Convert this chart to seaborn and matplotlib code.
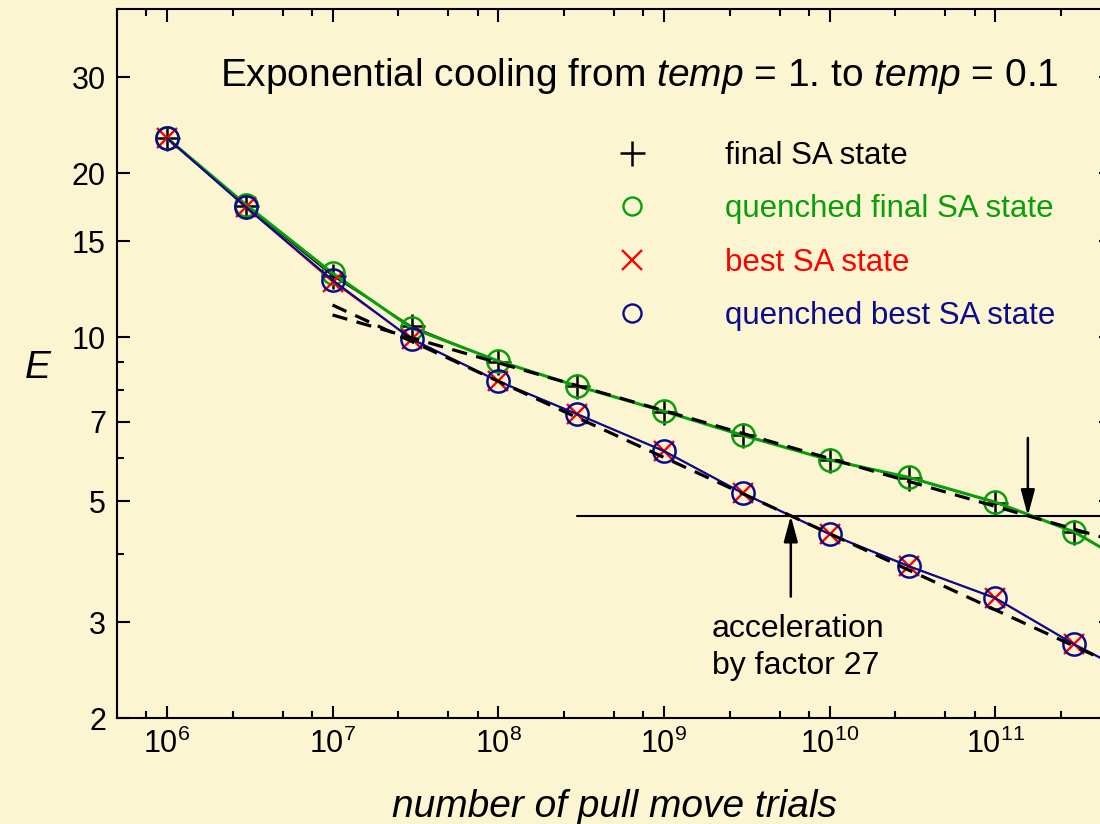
import numpy as np
import pandas as pd
import matplotlib
matplotlib.use("Agg")
import matplotlib.pyplot as plt
import seaborn as sns
from matplotlib.ticker import LogLocator, FixedLocator, FixedFormatter, NullFormatter
from matplotlib.lines import Line2D

# ---- data -------------------------------------------------------------
trials = [1e6, 3e6, 1e7, 3e7, 1e8, 3e8, 1e9, 3e9, 1e10, 3e10, 1e11, 3e11, 1e12]
final_sa = [23.2, 17.4, 12.95, 10.47, 9.02, 8.13, 7.30, 6.62, 5.95, 5.52, 4.97, 4.39, 3.55]
quenched_final = [23.2, 17.5, 13.1, 10.39, 9.04, 8.13, 7.31, 6.60, 5.95, 5.53, 4.98, 4.39, 3.55]
best_sa = [23.2, 17.3, 12.63, 9.92, 8.30, 7.22, 6.18, 5.17, 4.35, 3.80, 3.32, 2.73, 2.26]
quenched_best = [23.2, 17.32, 12.72, 9.92, 8.30, 7.22, 6.18, 5.17, 4.35, 3.80, 3.32, 2.73, 2.26]

# power-law fits E = E0 * (n / 1e7) ** (-exponent)
fit_range = [1e7, 1e12]
fit_final_E0, fit_final_exp = 10.98, 0.0878
fit_best_E0, fit_best_exp = 11.45, 0.1398

# reference energy level and arrow tails
level_E = 4.70
level_start = 3e8
arrow_down_from = 6.53
arrow_up_from = 3.34

x_major = [1e6, 1e7, 1e8, 1e9, 1e10, 1e11]
y_major = [2, 3, 5, 7, 10, 15, 20, 30]
y_minor = [4, 6, 8, 9]

# ---- style ------------------------------------------------------------
bg = "#fbf5d2"
green = "#0a9e0a"
navy = "#0c0c8a"
red = "#ff0000"

sns.set_theme(style="ticks")
plt.rcParams.update({
    "font.family": ["Liberation Sans", "DejaVu Sans"],
    "mathtext.fontset": "custom",
    "mathtext.rm": "Liberation Sans",
    "mathtext.it": "Liberation Sans:italic",
    "mathtext.bf": "Liberation Sans:bold",
    "axes.edgecolor": "black",
    "axes.labelcolor": "black",
    "axes.linewidth": 1.5,
    "text.color": "black",
    "xtick.color": "black",
    "ytick.color": "black",
    "xtick.labelcolor": "black",
    "ytick.labelcolor": "black",
})

fig = plt.figure(figsize=(11, 8.24), dpi=100, facecolor=bg)
ax = fig.add_axes([117 / 1100, 106 / 824, 994 / 1100, 709 / 824])
ax.set_facecolor(bg)
ax.set_xscale("log")
ax.set_yscale("log")

df = pd.DataFrame({
    "trials": trials,
    "final": final_sa,
    "qfinal": quenched_final,
    "best": best_sa,
    "qbest": quenched_best,
})

# solid curves with markers
sns.lineplot(data=df, x="trials", y="final", ax=ax, color="black", lw=1.0,
             marker="+", markersize=18, markeredgewidth=1.8,
             markeredgecolor="black", sort=False, estimator=None, zorder=2)
sns.lineplot(data=df, x="trials", y="qfinal", ax=ax, color=green, lw=2.2,
             marker="o", markersize=16, markerfacecolor="none",
             markeredgecolor=green, markeredgewidth=1.8, sort=False,
             estimator=None, zorder=3)
sns.lineplot(data=df, x="trials", y="best", ax=ax, color=red, lw=1.0,
             marker="x", markersize=15, markeredgewidth=1.7, markeredgecolor=red,
             sort=False, estimator=None, zorder=4)
sns.lineplot(data=df, x="trials", y="qbest", ax=ax, color=navy, lw=1.6,
             marker="o", markersize=16, markerfacecolor="none",
             markeredgecolor=navy, markeredgewidth=1.8, sort=False,
             estimator=None, zorder=5)

# dashed power-law fits
fx = np.array(fit_range)
fit_final = fit_final_E0 * (fx / 1e7) ** (-fit_final_exp)
fit_best = fit_best_E0 * (fx / 1e7) ** (-fit_best_exp)
ax.plot(fx, fit_final, color="black", lw=2.3, ls=(0, (4.8, 3.0)), zorder=6)
ax.plot(fx, fit_best, color="black", lw=2.3, ls=(0, (4.8, 3.0)), zorder=6)

# reference level and where each fit reaches it
ax.plot([level_start, 1e13], [level_E, level_E], color="black", lw=1.5, zorder=1)
x_cross_final = 1e7 * (level_E / fit_final_E0) ** (-1 / fit_final_exp)
x_cross_best = 1e7 * (level_E / fit_best_E0) ** (-1 / fit_best_exp)
factor = x_cross_final / x_cross_best

arrow_kw = dict(arrowstyle="-|>,head_length=1.3,head_width=0.35", color="black",
                lw=1.8, shrinkA=0, shrinkB=0)
ax.annotate("", xy=(x_cross_final, level_E), xytext=(x_cross_final, arrow_down_from),
            arrowprops=arrow_kw, zorder=7)
ax.annotate("", xy=(x_cross_best, level_E), xytext=(x_cross_best, arrow_up_from),
            arrowprops=arrow_kw, zorder=7)
ax.text(0.5986, 0.146, f"acceleration\nby factor {factor:.0f}", transform=ax.transAxes,
        ha="left", va="top", fontsize=23, linespacing=1.3)

# heading inside the frame
ax.text(0.1036, 0.905,
        r"Exponential cooling from $\mathit{temp}$ = 1. to $\mathit{temp}$ = 0.1",
        transform=ax.transAxes, ha="left", va="center", fontsize=28)

# legend
handles = [
    Line2D([], [], ls="none", marker="+", color="black", markersize=18, markeredgewidth=1.8),
    Line2D([], [], ls="none", marker="o", markerfacecolor="none", markeredgecolor=green,
           markersize=13, markeredgewidth=1.7),
    Line2D([], [], ls="none", marker="x", markeredgecolor=red, markersize=15, markeredgewidth=1.7),
    Line2D([], [], ls="none", marker="o", markerfacecolor="none", markeredgecolor=navy,
           markersize=13, markeredgewidth=1.7),
]
labels = ["final SA state", "quenched final SA state", "best SA state",
          "quenched best SA state"]
ax.legend(handles, labels, loc="upper left", bbox_to_anchor=(0.502, 0.814),
          frameon=False, fontsize=22.5, handlelength=1.0, handletextpad=2.5,
          labelspacing=0.75, borderpad=0, borderaxespad=0,
          labelcolor="markeredgecolor")

# axes limits, ticks, labels
ax.set_xlim(5e5, 5e11)
ax.set_ylim(2, 40)
ax.xaxis.set_major_locator(FixedLocator(x_major))
ax.xaxis.set_minor_locator(LogLocator(base=10, subs=(2.5, 5.0, 7.5), numticks=60))
ax.xaxis.set_minor_formatter(NullFormatter())
ax.yaxis.set_major_locator(FixedLocator(y_major))
ax.yaxis.set_major_formatter(FixedFormatter([str(v) for v in y_major]))
ax.yaxis.set_minor_locator(FixedLocator(y_minor))
ax.yaxis.set_minor_formatter(NullFormatter())

ax.tick_params(which="both", direction="in", top=True, right=True, width=1.5,
               labelsize=22)
ax.tick_params(which="major", length=9)
ax.tick_params(which="minor", length=5)
ax.tick_params(axis="x", pad=8)
ax.tick_params(axis="y", pad=8)

for s in ax.spines.values():
    s.set_linewidth(1.5)

ax.set_xlabel("number of pull move trials", fontsize=28, fontstyle="italic")
ax.set_ylabel("E", fontsize=28, fontstyle="italic", rotation=0, va="center", ha="center")
ax.xaxis.set_label_coords(0.5, -0.1)
ax.yaxis.set_label_coords(-0.0795, 0.494)

fig.savefig("out.png", dpi=100, facecolor=bg)
